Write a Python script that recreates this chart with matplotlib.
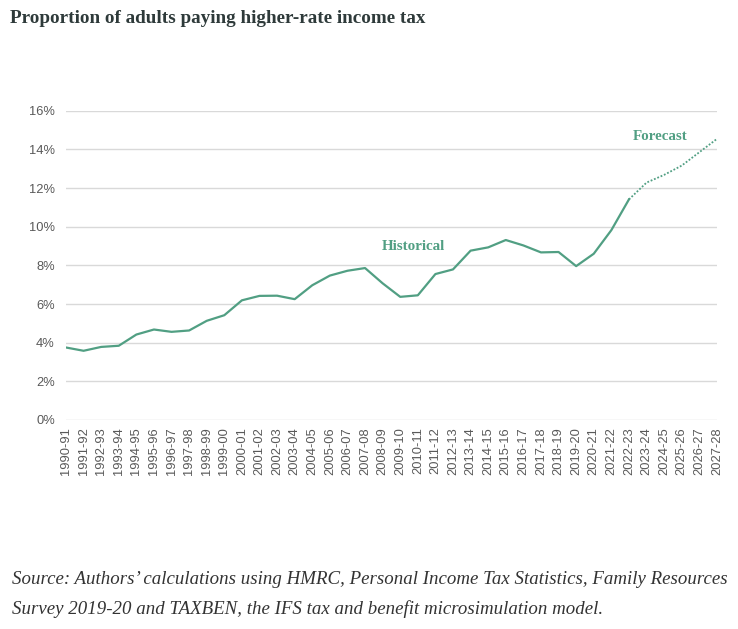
import matplotlib.pyplot as plt
from matplotlib.ticker import PercentFormatter

# financial years along the x axis
years = [f"{y}-{str(y + 1)[-2:]}" for y in range(1990, 2028)]

# share of adults paying higher-rate tax (%)
historical = [3.75, 3.58, 3.78, 3.84, 4.42, 4.68, 4.56, 4.63, 5.13, 5.42,
              6.19, 6.42, 6.43, 6.25, 6.97, 7.47, 7.72, 7.86, 7.07, 6.37,
              6.45, 7.55, 7.79, 8.76, 8.93, 9.31, 9.03, 8.67, 8.69, 7.96,
              8.60, 9.82, 11.41]
forecast = [11.41, 12.28, 12.68, 13.16, 13.85, 14.54]

green = "#519f83"

fig = plt.figure(figsize=(7.38, 6.29), dpi=100)
ax = fig.add_axes([0.0894, 0.3323, 0.882, 0.4917])

hist_x = list(range(len(historical)))
fc_x = list(range(len(historical) - 1, len(historical) - 1 + len(forecast)))

ax.plot(hist_x, [v / 100 for v in historical], color=green, lw=1.6)
ax.plot(fc_x, [v / 100 for v in forecast], color=green, lw=1.3, ls=(0, (1, 1)))

ax.set_xlim(0, len(years) - 1)
ax.set_ylim(0, 0.16)
ax.set_yticks([i / 100 for i in range(0, 17, 2)])
ax.yaxis.set_major_formatter(PercentFormatter(1.0, decimals=0))
ax.set_xticks(range(len(years)))
ax.set_xticklabels(years, rotation=90)

# only horizontal gridlines, no frame
ax.grid(axis="y", color="#d9d9d9", lw=1)
ax.set_axisbelow(True)
for s in ax.spines.values():
    s.set_visible(False)
ax.tick_params(length=0, labelsize=9.3, labelcolor="#595959", pad=8)
ax.tick_params(axis="x", pad=5)
for lbl in ax.get_xticklabels() + ax.get_yticklabels():
    lbl.set_family("Liberation Sans")

ax.text(19.75, 0.0895, "Historical", color=green, fontsize=10.8, fontweight="bold",
        family="Liberation Serif", ha="center", va="center")
ax.text(33.8, 0.1465, "Forecast", color=green, fontsize=10.8, fontweight="bold",
        family="Liberation Serif", ha="center", va="center")

fig.text(0.014, 0.97, "Proportion of adults paying higher-rate income tax",
         fontsize=13.8, fontweight="bold", family="Liberation Serif",
         color="#2e3a3a", ha="left", va="center")

fig.text(0.016, 0.079, "Source: Authors\u2019 calculations using HMRC, Personal Income Tax Statistics, Family Resources",
         fontsize=13.6, style="italic", family="Liberation Serif", color="#333333",
         ha="left", va="center")
fig.text(0.016, 0.031, "Survey 2019-20 and TAXBEN, the IFS tax and benefit microsimulation model.",
         fontsize=13.6, style="italic", family="Liberation Serif", color="#333333",
         ha="left", va="center")

plt.savefig("out.png", dpi=100)
